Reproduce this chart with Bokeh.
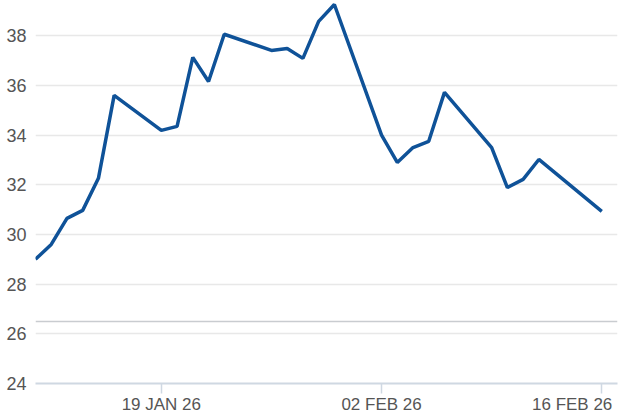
import numpy as np
from bokeh.plotting import figure
from bokeh.models import FixedTicker, Span, ColumnDataSource, Range1d, CustomJSTickFormatter
from bokeh.embed import file_html
from bokeh.resources import INLINE

dates = ["2026-01-11", "2026-01-12", "2026-01-13", "2026-01-14", "2026-01-15", "2026-01-16",
         "2026-01-19", "2026-01-20", "2026-01-21", "2026-01-22", "2026-01-23",
         "2026-01-26", "2026-01-27", "2026-01-28", "2026-01-29", "2026-01-30",
         "2026-02-02", "2026-02-03", "2026-02-04", "2026-02-05", "2026-02-06",
         "2026-02-09", "2026-02-10", "2026-02-11", "2026-02-12", "2026-02-13",
         "2026-02-16"]
values = [29.0, 29.6, 30.65, 30.97, 32.26, 35.6,
          34.19, 34.35, 37.13, 36.16, 38.06,
          37.41, 37.49, 37.09, 38.58, 39.26,
          34.0, 32.9, 33.5, 33.75, 35.72,
          33.5, 31.89, 32.22, 33.02, 32.5,
          30.93]
x_tick_dates = ["2026-01-19", "2026-02-02", "2026-02-16"]
x_tick_labels = ["19 JAN 26", "02 FEB 26", "16 FEB 26"]
y_ticks = [24, 26, 28, 30, 32, 34, 36, 38]
x_start, x_end = "2026-01-11", "2026-02-17"
y_start, y_end = 24, 39.42
ref_level = 26.5


def ms(d):
    return float((np.datetime64(d) - np.datetime64("1970-01-01")) / np.timedelta64(1, "ms"))


src = ColumnDataSource(dict(x=[ms(d) for d in dates], y=values))

p = figure(width=626, height=417, x_axis_type="datetime",
           output_backend="svg", toolbar_location=None,
           x_range=Range1d(ms(x_start), ms(x_end)), y_range=Range1d(y_start, y_end),
           min_border_left=35, min_border_right=9, min_border_top=0, min_border_bottom=34)
p.outline_line_color = None
p.background_fill_color = "white"

p.xgrid.visible = False
p.ygrid.grid_line_color = "#e8e8e8"
p.ygrid.grid_line_width = 1.5

tick_ms = [ms(d) for d in x_tick_dates]
p.xaxis.ticker = FixedTicker(ticks=tick_ms)
p.xaxis.formatter = CustomJSTickFormatter(args=dict(tvals=tick_ms, tlabels=x_tick_labels), code="""
const i = tvals.indexOf(tick);
if (i < 0) return "";
// the last label is pulled inside the plot edge, as in the reference
return i == tvals.length - 1 ? tlabels[i] + "\\u00a0\\u00a0\\u00a0" : tlabels[i];
""")
p.xaxis.axis_line_color = "#cfd8e2"
p.xaxis.axis_line_width = 2
p.xaxis.major_tick_line_color = "#cfd8e2"
p.xaxis.major_tick_line_width = 1.5
p.xaxis.major_tick_out = 10
p.xaxis.major_tick_in = 0
p.xaxis.minor_tick_line_color = None
p.xaxis.major_label_standoff = 1
p.xaxis.major_label_text_font = "Liberation Sans"
p.xaxis.major_label_text_font_size = "17px"
p.xaxis.major_label_text_color = "#555555"

p.yaxis.ticker = FixedTicker(ticks=y_ticks)
p.yaxis.axis_line_color = None
p.yaxis.major_tick_line_color = None
p.yaxis.minor_tick_line_color = None
p.yaxis.major_tick_out = 0
p.yaxis.major_tick_in = 0
p.yaxis.major_label_standoff = 9
p.yaxis.major_label_text_font = "Liberation Sans"
p.yaxis.major_label_text_font_size = "18px"
p.yaxis.major_label_text_color = "#555555"

p.add_layout(Span(location=ref_level, dimension="width", line_color="#c9ccd0", line_width=1.5))

p.line("x", "y", source=src, line_color="#0f5298", line_width=3.5)

open("out.html", "w").write(file_html(p, INLINE))
